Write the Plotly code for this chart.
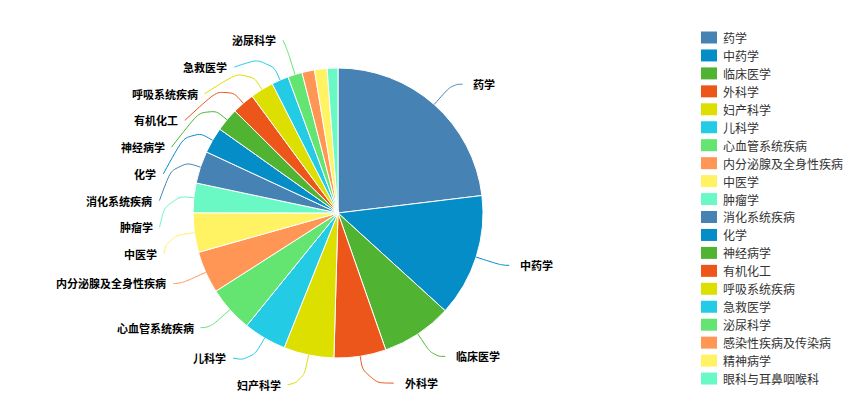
import math
import plotly.graph_objects as go

# ---------------- data ----------------
categories = ["药学", "中药学", "临床医学", "外科学", "妇产科学", "儿科学",
              "心血管系统疾病", "内分泌腺及全身性疾病", "中医学", "肿瘤学",
              "消化系统疾病", "化学", "神经病学", "有机化工", "呼吸系统疾病",
              "急救医学", "泌尿科学", "感染性疾病及传染病", "精神病学", "眼科与耳鼻咽喉科"]
values = [231, 137, 79, 58, 56, 48, 51, 47, 44, 33, 36, 29, 26, 25, 26, 19, 16, 14, 14, 12]
palette = ["#4682B4", "#058DC7", "#50B432", "#ED561B", "#DDDF00",
           "#24CBE5", "#64E572", "#FF9655", "#FFF263", "#6AF9C4"]

# ---------------- layout constants (page pixels) ----------------
PAGE_W, PAGE_H = 853, 416
OFF = 8                      # default body margin of the html page
FW, FH = PAGE_W - OFF, PAGE_H - OFF
CX, CY, R = 338, 213, 145
L_NAT = 27          # first label-line segment
R_ALIGN = 179       # labels aligned on this circle
LABEL_H = 26.7      # min vertical spacing of labels
B_TOP, B_BOT = 27, 399
MIN_LABEL_ANGLE = 5.5
SMOOTH = 0.5
FONT = "Noto Sans CJK SC, Noto Sans, sans-serif"

colors = [palette[i % len(palette)] for i in range(len(categories))]


def px(x, y):
    return (x - OFF) / FW, 1 - (y - OFF) / FH


dx0, dy1 = px(CX - R, CY - R)
dx1, dy0 = px(CX + R, CY + R)

fig = go.Figure()
fig.add_trace(go.Pie(
    labels=categories, values=values, sort=False, direction="clockwise",
    rotation=0, textinfo="none", hoverinfo="label+value+percent",
    marker=dict(colors=colors, line=dict(color="#ffffff", width=1)),
    domain=dict(x=[dx0, dx1], y=[dy0, dy1]),
    showlegend=False,
))

# ---------------- outside labels with leader lines ----------------
total = float(sum(values))
items = []
cum = 0.0
for i, v in enumerate(values):
    a0 = cum / total * 360
    cum += v
    a1 = cum / total * 360
    if a1 - a0 < MIN_LABEL_ANGLE:
        continue
    th = math.radians((a0 + a1) / 2)
    sx, sy = math.sin(th), -math.cos(th)
    side = 1 if sx >= 0 else -1
    p0 = (CX + R * sx, CY + R * sy)
    p1 = (CX + (R + L_NAT) * sx, CY + (R + L_NAT) * sy)
    items.append(dict(i=i, side=side, p0=p0, p1=p1, ny=p1[1]))


def pav(vals):
    blocks = []
    for v in vals:
        blocks.append([v, 1])
        while len(blocks) > 1 and blocks[-2][0] / blocks[-2][1] > blocks[-1][0] / blocks[-1][1]:
            s, c = blocks.pop()
            blocks[-1][0] += s
            blocks[-1][1] += c
    out = []
    for s, c in blocks:
        out += [s / c] * c
    return out


lo = B_TOP + LABEL_H / 2
hi = B_BOT - LABEL_H / 2
for side in (1, -1):
    lst = sorted([it for it in items if it["side"] == side], key=lambda d: d["ny"])
    n = len(lst)
    z = pav([it["ny"] - LABEL_H * k for k, it in enumerate(lst)])
    upper = hi - LABEL_H * (n - 1)
    for k, it in enumerate(lst):
        zk = min(max(z[k], lo), upper)
        it["y"] = zk + LABEL_H * k

shapes = []
annotations = []
for it in items:
    side = it["side"]
    y = it["y"]
    dy = y - CY
    if abs(dy) < R + L_NAT:
        ex = CX + side * math.sqrt(R_ALIGN ** 2 - dy ** 2)
    else:
        ex = it["p1"][0] + side * 4
    p0, p1, p2 = it["p0"], it["p1"], (ex, y)
    l1 = math.dist(p0, p1)
    l2 = math.dist(p1, p2)
    if l2 > 0.5:
        mv = min(l1, l2) * SMOOTH
        m0 = (p1[0] + (p0[0] - p1[0]) * mv / l1, p1[1] + (p0[1] - p1[1]) * mv / l1)
        m2 = (p1[0] + (p2[0] - p1[0]) * mv / l2, p1[1] + (p2[1] - p1[1]) * mv / l2)
        m1 = ((m0[0] + m2[0]) / 2, (m0[1] + m2[1]) / 2)
        pts = [p0, m0, m0, m1, m2, m2, p2]
        f = [px(*q) for q in pts]
        path = "M{:.5f},{:.5f} C{:.5f},{:.5f} {:.5f},{:.5f} {:.5f},{:.5f} C{:.5f},{:.5f} {:.5f},{:.5f} {:.5f},{:.5f}".format(
            *[c for q in f for c in q])
    else:
        f = [px(*q) for q in (p0, p1)]
        path = "M{:.5f},{:.5f} L{:.5f},{:.5f}".format(*[c for q in f for c in q])
    shapes.append(dict(type="path", xref="paper", yref="paper", path=path,
                       line=dict(color=colors[it["i"]], width=1)))
    gap = 9 if side > 0 else 5
    tx, ty = px(ex + side * gap, y)
    annotations.append(dict(
        x=tx, y=ty, xref="paper", yref="paper", text="<b>" + categories[it["i"]] + "</b>",
        showarrow=False, xanchor="left" if side > 0 else "right", yanchor="middle",
        font=dict(family=FONT, size=11, color="#000000")))

# ---------------- legend ----------------
LEG_X, LEG_Y0, LEG_STEP = 701, 37.5, 17.95
for i, cat in enumerate(categories):
    yc = LEG_Y0 + LEG_STEP * i
    x0, y0 = px(LEG_X, yc + 6)
    x1, y1 = px(LEG_X + 16, yc - 6)
    shapes.append(dict(type="rect", xref="paper", yref="paper", x0=x0, x1=x1, y0=y0, y1=y1,
                       fillcolor=colors[i], line=dict(width=0)))
    tx, ty = px(LEG_X + 20, yc)
    annotations.append(dict(
        x=tx, y=ty, xref="paper", yref="paper", text=cat, showarrow=False,
        xanchor="left", yanchor="middle",
        font=dict(family=FONT, size=12, color="#333333")))

fig.update_layout(
    width=FW, height=FH, margin=dict(l=0, r=0, t=0, b=0),
    paper_bgcolor="#ffffff", plot_bgcolor="#ffffff",
    shapes=shapes, annotations=annotations, showlegend=False,
)
fig.write_html("out.html")
